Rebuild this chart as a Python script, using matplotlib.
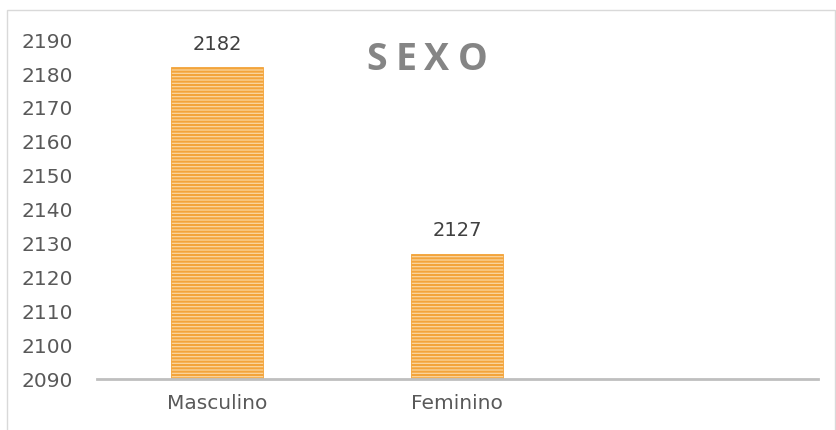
import matplotlib.pyplot as plt
from matplotlib.patches import Rectangle

plt.rcParams['hatch.color'] = '#EF9422'
plt.rcParams['hatch.linewidth'] = 1.5
plt.rcParams['font.family'] = ['DejaVu Sans']

categorias = ['Masculino', 'Feminino', '']
valores = [2182, 2127, None]
yticks = list(range(2090, 2191, 10))

fig = plt.figure(figsize=(8.36, 4.30), dpi=100)
ax = fig.add_axes([0.116, 0.1186, 0.862, 0.788])

x = list(range(len(categorias)))
alturas = [v - 2090 if v is not None else 0 for v in valores]
bars = ax.bar(x, alturas, bottom=2090, width=0.383, color='#FBD6A0',
              hatch='-----', edgecolor='#F3A43B', linewidth=0.6)

for xi, v in zip(x, valores):
    if v is None:
        continue
    ax.annotate(str(v), (xi, v), xytext=(0, 12.5), textcoords='offset points',
                ha='center', va='baseline', fontsize=14, color='#404040')

ax.set_xlim(-0.5, 2.5)
ax.set_ylim(2090, 2190)
ax.set_yticks(yticks)
ax.set_xticks(x)
ax.set_xticklabels(categorias)
ax.tick_params(length=0, labelsize=14.5, labelcolor='#595959')
ax.tick_params(axis='y', pad=17)
ax.tick_params(axis='x', pad=11)

for s in ['top', 'right', 'left']:
    ax.spines[s].set_visible(False)
ax.spines['bottom'].set_color('#BFBFBF')
ax.spines['bottom'].set_linewidth(2)
ax.spines['bottom'].set_zorder(5)

# titulo com espacamento entre letras
titulo = 'SEXO'
centros = [377, 406, 437, 473]
for c, xc in zip(titulo, centros):
    fig.text(xc / 836, 1 - 70 / 430, c, fontsize=27, fontweight='bold',
             color='#858585', family='Open Sans', ha='center', va='baseline')

fig.patches.append(Rectangle((7 / 836, -0.01), 828 / 836, 1.01 - 10 / 430,
                             transform=fig.transFigure, fill=False,
                             edgecolor='#D9D9D9', linewidth=1))

fig.savefig('out.png', dpi=100)
